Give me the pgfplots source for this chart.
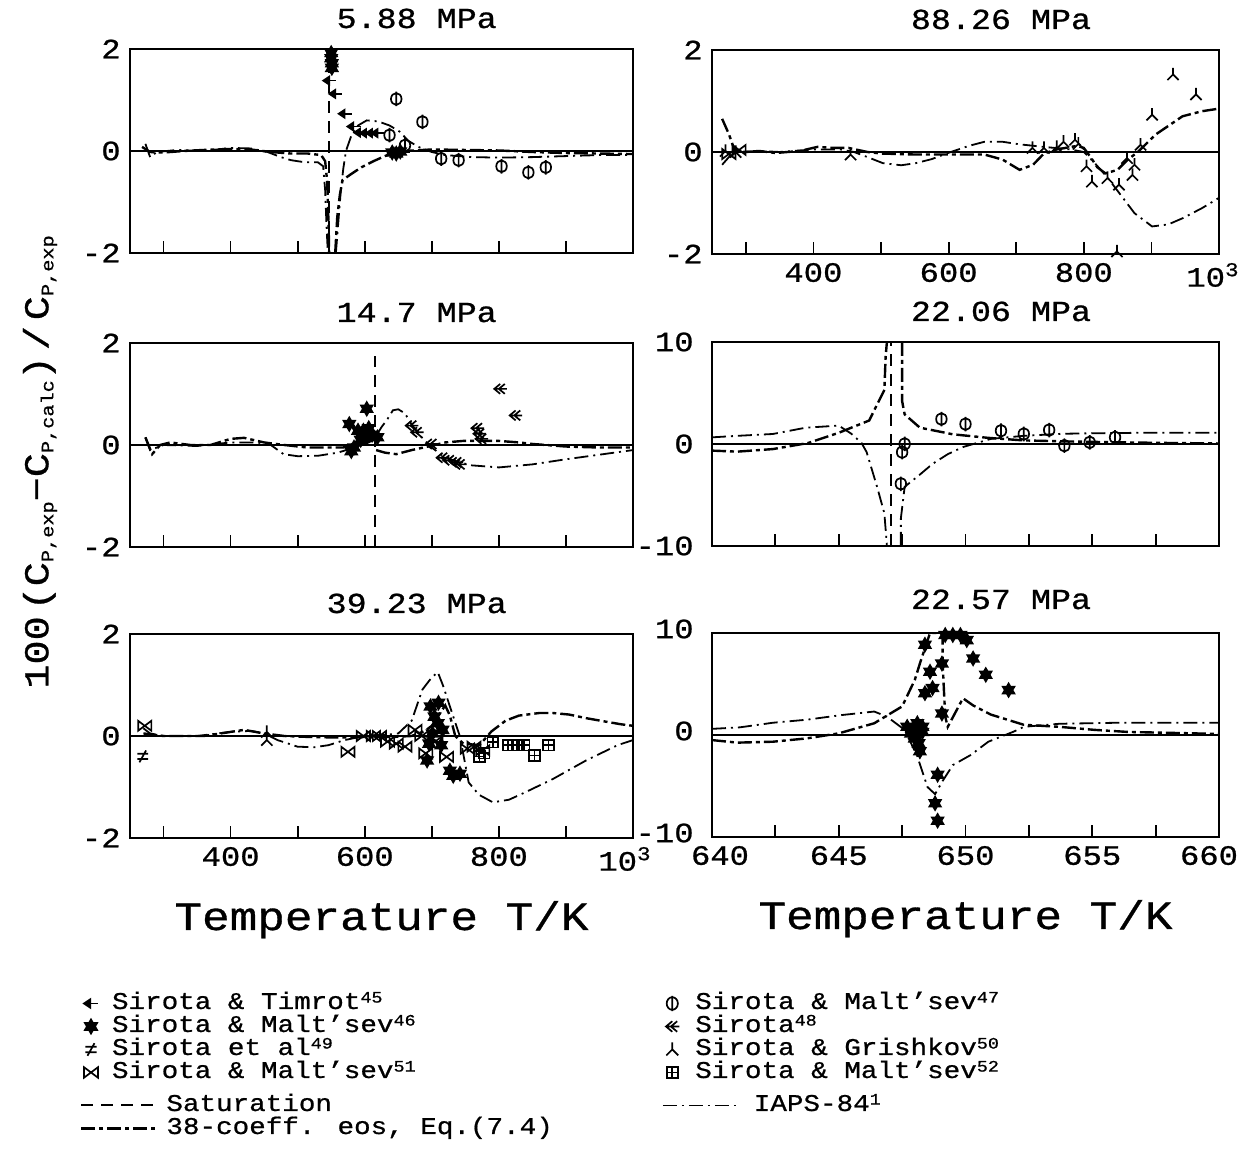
\documentclass[border=0pt]{standalone}
\usepackage{pgfplots}
\pgfplotsset{compat=1.18}
\usepackage{fontspec}
\setmainfont{Liberation Mono}[FakeStretch=1.15, FakeBold=0.8]
\newcommand\tkfont{\fontsize{14pt}{16pt}\selectfont}
\newcommand\ttlfont{\fontsize{14.5pt}{16pt}\selectfont}
\newcommand\lblfont{\fontsize{20pt}{22pt}\selectfont}
\newcommand\lgfont{\fontsize{12pt}{13pt}\selectfont}
\newcommand\ylfont{\fontsize{17.5pt}{19pt}\selectfont}
\newcommand\sub[1]{\raisebox{-2.5pt}{\fontsize{8.8pt}{9pt}\selectfont #1}}
\newcommand\sups[1]{\raisebox{3.2pt}{\fontsize{8pt}{8pt}\selectfont #1}}

% ---------- plot marks ----------
\pgfdeclareplotmark{larrow}{%
  \pgfpathmoveto{\pgfqpoint{-\pgfplotmarksize}{0pt}}%
  \pgfpathlineto{\pgfqpoint{-0.1\pgfplotmarksize}{0.6\pgfplotmarksize}}%
  \pgfpathlineto{\pgfqpoint{-0.1\pgfplotmarksize}{-0.6\pgfplotmarksize}}%
  \pgfpathclose
  \pgfusepathqfillstroke
  \pgfpathmoveto{\pgfqpoint{-0.2\pgfplotmarksize}{0pt}}%
  \pgfpathlineto{\pgfqpoint{\pgfplotmarksize}{0pt}}%
  \pgfusepathqstroke}
\pgfdeclareplotmark{hexstar}{%
  \pgfpathmoveto{\pgfqpoint{0pt}{\pgfplotmarksize}}%
  \pgfpathlineto{\pgfqpoint{0.866\pgfplotmarksize}{-0.5\pgfplotmarksize}}%
  \pgfpathlineto{\pgfqpoint{-0.866\pgfplotmarksize}{-0.5\pgfplotmarksize}}%
  \pgfpathclose
  \pgfpathmoveto{\pgfqpoint{0pt}{-\pgfplotmarksize}}%
  \pgfpathlineto{\pgfqpoint{-0.866\pgfplotmarksize}{0.5\pgfplotmarksize}}%
  \pgfpathlineto{\pgfqpoint{0.866\pgfplotmarksize}{0.5\pgfplotmarksize}}%
  \pgfpathclose
  \pgfusepathqfillstroke}
\pgfdeclareplotmark{neq}{%
  \pgfpathmoveto{\pgfqpoint{-0.8\pgfplotmarksize}{0.4\pgfplotmarksize}}%
  \pgfpathlineto{\pgfqpoint{0.8\pgfplotmarksize}{0.4\pgfplotmarksize}}%
  \pgfpathmoveto{\pgfqpoint{-0.8\pgfplotmarksize}{-0.4\pgfplotmarksize}}%
  \pgfpathlineto{\pgfqpoint{0.8\pgfplotmarksize}{-0.4\pgfplotmarksize}}%
  \pgfpathmoveto{\pgfqpoint{0.5\pgfplotmarksize}{0.9\pgfplotmarksize}}%
  \pgfpathlineto{\pgfqpoint{-0.5\pgfplotmarksize}{-0.9\pgfplotmarksize}}%
  \pgfusepathqstroke}
\pgfdeclareplotmark{bowtie}{%
  \pgfpathmoveto{\pgfqpoint{-\pgfplotmarksize}{0.75\pgfplotmarksize}}%
  \pgfpathlineto{\pgfqpoint{-\pgfplotmarksize}{-0.75\pgfplotmarksize}}%
  \pgfpathlineto{\pgfqpoint{\pgfplotmarksize}{0.75\pgfplotmarksize}}%
  \pgfpathlineto{\pgfqpoint{\pgfplotmarksize}{-0.75\pgfplotmarksize}}%
  \pgfpathclose
  \pgfusepathqstroke}
\pgfdeclareplotmark{phi}{%
  \pgfpathellipse{\pgfpointorigin}{\pgfqpoint{0.8\pgfplotmarksize}{0pt}}{\pgfqpoint{0pt}{0.9\pgfplotmarksize}}%
  \pgfpathmoveto{\pgfqpoint{0pt}{1.1\pgfplotmarksize}}%
  \pgfpathlineto{\pgfqpoint{0pt}{-1.1\pgfplotmarksize}}%
  \pgfusepathqstroke}
\pgfdeclareplotmark{dchev}{%
  \pgfpathmoveto{\pgfqpoint{0pt}{0.75\pgfplotmarksize}}%
  \pgfpathlineto{\pgfqpoint{-0.9\pgfplotmarksize}{0pt}}%
  \pgfpathlineto{\pgfqpoint{0pt}{-0.75\pgfplotmarksize}}%
  \pgfpathmoveto{\pgfqpoint{0.7\pgfplotmarksize}{0.75\pgfplotmarksize}}%
  \pgfpathlineto{\pgfqpoint{-0.2\pgfplotmarksize}{0pt}}%
  \pgfpathlineto{\pgfqpoint{0.7\pgfplotmarksize}{-0.75\pgfplotmarksize}}%
  \pgfpathmoveto{\pgfqpoint{-0.9\pgfplotmarksize}{0pt}}%
  \pgfpathlineto{\pgfqpoint{\pgfplotmarksize}{0pt}}%
  \pgfusepathqstroke}
\pgfdeclareplotmark{yinv}{%
  \pgfpathmoveto{\pgfqpoint{0pt}{\pgfplotmarksize}}%
  \pgfpathlineto{\pgfqpoint{0pt}{0pt}}%
  \pgfpathmoveto{\pgfqpoint{-0.85\pgfplotmarksize}{-0.85\pgfplotmarksize}}%
  \pgfpathlineto{\pgfqpoint{0pt}{0pt}}%
  \pgfpathlineto{\pgfqpoint{0.85\pgfplotmarksize}{-0.85\pgfplotmarksize}}%
  \pgfusepathqstroke}
\pgfdeclareplotmark{boxplus}{%
  \pgfpathrectangle{\pgfqpoint{-0.8\pgfplotmarksize}{-0.8\pgfplotmarksize}}{\pgfqpoint{1.6\pgfplotmarksize}{1.6\pgfplotmarksize}}%
  \pgfpathmoveto{\pgfqpoint{0pt}{-0.8\pgfplotmarksize}}%
  \pgfpathlineto{\pgfqpoint{0pt}{0.8\pgfplotmarksize}}%
  \pgfpathmoveto{\pgfqpoint{-0.8\pgfplotmarksize}{0pt}}%
  \pgfpathlineto{\pgfqpoint{0.8\pgfplotmarksize}{0pt}}%
  \pgfusepathqstroke}

\tikzset{
  iaps/.style={line width=0.9pt, dash pattern=on 7pt off 2.5pt on 1pt off 2.5pt},
  eos/.style={line width=1.2pt, dash pattern=on 7pt off 2pt on 2pt off 2pt},
  sat/.style={line width=1pt, dash pattern=on 6pt off 4pt},
  zl/.style={line width=0.9pt},
  dat/.style={mark size=3.3pt, line width=0.85pt},
}
\pgfplotsset{
  panel/.style={scale only axis, anchor=south west,
    axis line style={line width=1.2pt},
    tick align=inside, xtick pos=left, ytick pos=left,
    major tick length=6pt, tick style={line width=0.9pt, black},
    ytick style={draw=none},
    xticklabel style={font=\tkfont, yshift=-1pt},
    yticklabel style={font=\tkfont, inner sep=0pt, xshift=-4.5pt},
    title style={at={(axis description cs:0.57,1)}, anchor=base, yshift=4.5pt, font=\ttlfont, inner sep=0pt},
    xlabel style={at={(axis description cs:0.5,0)}, anchor=base, yshift=-46pt, font=\lblfont, inner sep=0pt},
  },
  wide/.style={panel, width=251.5pt, height=102pt, xmin=250, xmax=1000, ymin=-2, ymax=2,
    xtick={300,400,500,600,700,800,900,1000}, ytick={-2,0,2}, yticklabels={-2,0,2}},
  narrow/.style={panel, width=253.5pt, height=102pt, xmin=640, xmax=660, ymin=-10, ymax=10,
    xtick={640,642.5,...,660}, ytick={-10,0,10}, yticklabels={-10,0,10},
    yticklabel style={xshift=-4.5pt}},
  legbase/.style={hide axis, scale only axis, width=1pt, height=1pt,
    xmin=0, xmax=1, ymin=0, ymax=1, anchor=north west,
    legend style={at={(0,1)}, anchor=north west, draw=none, fill=none, font=\lgfont,
      legend cell align=left, inner sep=0pt, outer sep=0pt, row sep=0pt,
      nodes={inner sep=0pt, text height=8.5pt, text depth=3pt}}},
}

\begin{document}
\begin{tikzpicture}
\path[use as bounding box] (0,0) rectangle (622pt,586pt);

% ================= 5.88 MPa =================
\begin{axis}[wide, at={(65pt,459.5pt)}, xticklabels={}, title={5.88 MPa}]
\addplot[zl] coordinates {(250,0) (1000,0)};
\addplot[sat] coordinates {(547,-2) (547,2)};
\addplot[eos] coordinates {(268,0.08) (280,-0.02) (300,-0.03) (330,0.0) (360,0.02) (400,0.04) (430,0.03) (460,-0.02) (490,-0.05) (515,-0.05) (535,-0.08) (541,-0.2) (544,-0.6) (546,-1.4) (547,-2)};
\addplot[eos] coordinates {(556,-2) (559,-1.3) (563,-0.85) (567,-0.57) (580,-0.45) (595,-0.32) (613,-0.2) (630,-0.1) (645,-0.03) (660,0.0) (700,0.03) (750,0.02) (800,0.01) (850,-0.02) (900,-0.04) (950,-0.05) (1000,-0.06)};
\addplot[iaps] coordinates {(273,0.14) (280,-0.12) (290,-0.02) (320,0.02) (360,0.0) (400,0.06) (430,0.05) (455,-0.02) (475,-0.12) (490,-0.18) (510,-0.22) (530,-0.22) (538,-0.3) (541,-0.77) (543,-1.45) (545,-2)};
\addplot[iaps] coordinates {(557,-2) (560,-1.5) (564,-0.83) (568,-0.35) (572,0.0) (580,0.3) (590,0.5) (603,0.6) (620,0.58) (637,0.5) (652,0.38) (665,0.2) (680,0.08) (700,-0.02) (720,-0.08) (760,-0.12) (800,-0.13) (850,-0.12) (900,-0.1) (950,-0.08) (1000,-0.08)};
\addplot[only marks, dat, mark=larrow] coordinates {(548,1.38) (557,1.12) (571,0.73) (584,0.48) (594,0.36) (603,0.35) (612,0.35) (620,0.35) (644,-0.02) (650,-0.04) (657,-0.02)};
\addplot[only marks, dat, mark=hexstar] coordinates {(550,1.92) (550,1.82) (551,1.72) (551,1.63) (641,-0.03) (647,-0.05) (653,-0.01)};
\addplot[only marks, dat, mark=phi] coordinates {(647,1.02) (686,0.57) (637,0.31) (660,0.11) (714,-0.15) (740,-0.18) (804,-0.3) (844,-0.42) (870,-0.32)};
\end{axis}

% ================= 88.26 MPa =================
\begin{axis}[wide, width=253.5pt, at={(356pt,459pt)}, xticklabels={,400,,600,,800,,10\textsuperscript{3}\kern6pt}, title={88.26 MPa}]
\addplot[zl] coordinates {(250,0) (1000,0)};
\addplot[eos] coordinates {(265,0.65) (275,0.35) (283,0.05) (300,0.0) (320,0.02) (344,-0.02) (380,0.02) (406,0.1) (430,0.08) (452,0.08) (480,0.0) (500,-0.03) (551,-0.05) (599,-0.05) (653,-0.05) (680,-0.15) (705,-0.35) (725,-0.25) (741,-0.03) (760,0.05) (790,0.12) (800,0.08) (810,-0.1) (820,-0.3) (832,-0.42) (850,-0.35) (865,-0.15) (880,0.0) (906,0.34) (946,0.7) (975,0.8) (1000,0.85)};
\addplot[iaps] coordinates {(265,-0.25) (275,-0.1) (285,0.0) (320,0.02) (350,0.0) (400,0.05) (440,0.05) (460,0.0) (480,-0.1) (503,-0.22) (530,-0.26) (551,-0.22) (575,-0.14) (599,-0.02) (630,0.12) (653,0.2) (680,0.2) (705,0.15) (741,0.1) (780,0.05) (800,0.0) (815,-0.2) (835,-0.5) (855,-0.85) (875,-1.2) (901,-1.46) (925,-1.42) (946,-1.3) (975,-1.1) (1000,-0.9)};
\addplot[only marks, dat, mark=yinv] coordinates {(932,1.52) (966,1.13) (901,0.73) (787,0.24) (792,0.16) (770,0.2) (724,0.08) (741,0.08) (760,0.1) (804,-0.28) (812,-0.58) (835,-0.51) (852,-0.64) (872,-0.45) (875,-0.25) (864,-0.12) (884,0.14) (849,-1.95) (270,0.02) (285,0.0) (455,-0.05)};
\addplot[only marks, dat, mark=bowtie] coordinates {(275,-0.04) (290,0.04) (842,-2.05)};
\end{axis}

% ================= 14.7 MPa =================
\begin{axis}[wide, at={(65pt,312.5pt)}, xticklabels={}, title={14.7 MPa}]
\addplot[zl] coordinates {(250,0) (1000,0)};
\addplot[sat] coordinates {(616,-2) (616,1.75)};
\addplot[eos] coordinates {(273,0.15) (283,-0.18) (295,0.0) (310,0.05) (340,0.0) (370,0.0) (400,0.12) (420,0.14) (450,0.05) (480,0.0) (515,-0.05) (545,-0.05) (567,-0.05) (590,0.0) (605,0.05) (612,0.1)};
\addplot[eos] coordinates {(617,-0.1) (630,-0.15) (647,-0.18) (670,-0.1) (698,-0.02) (720,0.05) (747,0.08) (775,0.08) (800,0.08) (830,0.05) (850,0.02) (900,-0.03) (950,-0.05) (1000,-0.05)};
\addplot[iaps] coordinates {(273,0.15) (280,-0.1) (300,0.0) (350,-0.02) (400,0.05) (440,0.05) (460,0.0) (479,-0.18) (500,-0.22) (531,-0.21) (560,-0.15) (577,-0.08) (595,0.0) (608,0.1) (614,0.2)};
\addplot[iaps] coordinates {(618,0.2) (625,0.35) (634,0.51) (642,0.68) (650,0.7) (660,0.62) (670,0.4) (685,0.15) (698,-0.03) (715,-0.2) (735,-0.32) (760,-0.4) (800,-0.44) (850,-0.38) (900,-0.28) (950,-0.19) (1000,-0.1)};
\addplot[only marks, dat, mark=hexstar] coordinates {(603,0.71) (577,0.41) (590,0.28) (598,0.28) (606,0.33) (611,0.2) (619,0.15) (580,-0.12) (584,-0.05) (594,0.1) (600,0.15)};
\addplot[only marks, dat, mark=dchev] coordinates {(802,1.1) (825,0.58) (670,0.38) (678,0.25) (716,-0.25) (726,-0.3) (737,-0.34) (742,-0.38) (768,0.33) (771,0.22) (774,0.12) (700,0.02)};
\end{axis}

% ================= 22.06 MPa =================
\begin{axis}[narrow, at={(356pt,313pt)}, xticklabels={}, title={22.06 MPa}]
\addplot[zl] coordinates {(640,0) (660,0)};
\addplot[sat] coordinates {(647.07,-10) (647.07,10)};
\addplot[iaps] coordinates {(640,0.65) (641,0.8) (642.4,0.98) (643.7,1.6) (645,1.8) (645.5,1.0) (645.9,0.1) (646.1,-0.8) (646.5,-4.1) (646.8,-6.8) (646.9,-10)};
\addplot[iaps] coordinates {(647.45,-10) (647.45,-7.3) (647.6,-4.2) (648.2,-3.0) (648.7,-1.95) (649.3,-1.0) (649.9,-0.3) (651,0.5) (652.3,0.8) (653.8,1.0) (655,1.05) (657,1.1) (660,1.1)};
\addplot[eos] coordinates {(640,-0.65) (641,-0.75) (642.4,-0.5) (643.8,0.1) (645,1.1) (646.2,2.3) (646.8,5.3) (646.85,8.6) (646.9,10)};
\addplot[eos] coordinates {(647.5,10) (647.5,7.6) (647.5,4.2) (647.6,2.9) (648.2,1.6) (649.5,0.95) (650.9,0.6) (652.3,0.35) (654,0.25) (656.4,0.15) (658,0.1) (660,0.05)};
\addplot[only marks, dat, mark=phi] coordinates {(649.05,2.44) (650.0,1.95) (651.4,1.3) (652.3,0.98) (653.3,1.37) (653.9,-0.16) (654.9,0.16) (655.9,0.65) (647.6,0.0) (647.5,-0.8) (647.45,-3.9)};
\end{axis}

% ================= 39.23 MPa =================
\begin{axis}[wide, at={(65pt,167pt)}, xticklabels={,400,,600,,800,,10\textsuperscript{3}\kern8pt}, title={39.23 MPa}, xlabel={Temperature T/K}]
\addplot[zl] coordinates {(250,0) (1000,0)};
\addplot[iaps] coordinates {(270,0.15) (280,0.05) (300,0.0) (350,0.0) (400,0.08) (430,0.1) (450,0.05) (470,-0.08) (500,-0.21) (525,-0.22) (546,-0.18) (570,-0.08) (600,0.0) (630,0.02) (650,0.05) (670,0.3) (686,0.91) (700,1.15) (709,1.25) (717,0.98) (732,0.38) (742,-0.01) (755,-0.91) (770,-1.15) (791,-1.3) (815,-1.25) (840,-1.1) (881,-0.84) (930,-0.48) (977,-0.18) (1000,-0.08)};
\addplot[eos] coordinates {(270,0.05) (300,0.0) (330,0.0) (360,0.0) (400,0.08) (420,0.12) (450,0.05) (480,0.0) (520,-0.02) (560,-0.03) (600,-0.02) (640,-0.02) (670,0.0) (690,0.1) (700,0.2) (710,0.4) (720,0.6) (727,0.4) (735,0.0) (747,-0.15) (771,-0.18) (789,0.09) (810,0.3) (830,0.4) (860,0.45) (881,0.45) (905,0.42) (930,0.35) (960,0.28) (982,0.23) (1000,0.2)};
\addplot[only marks, dat, mark=bowtie] coordinates {(272,0.2) (575,-0.31) (598,0.0) (613,0.0) (622,0.0) (634,-0.11) (647,-0.15) (660,-0.21) (675,0.12) (685,0.0) (691,-0.34) (706,-0.1) (722,-0.41) (753,-0.25) (763,-0.21) (776,-0.28)};
\addplot[only marks, dat, mark=hexstar] coordinates {(698,0.58) (704,0.38) (709,0.25) (696,-0.15) (693,-0.48) (727,-0.68) (732,-0.78) (742,-0.74) (716,0.12) (714,-0.18) (701,0.05) (710,0.65)};
\addplot[only marks, dat, mark=neq] coordinates {(269,-0.4)};
\addplot[only marks, dat, mark=boxplus] coordinates {(771,-0.4) (778,-0.34) (791,-0.12) (814,-0.18) (827,-0.18) (838,-0.18) (853,-0.38) (874,-0.18)};
\addplot[only marks, dat, mark=yinv] coordinates {(454,0.08) (454,-0.08)};
\end{axis}

% ================= 22.57 MPa =================
\begin{axis}[narrow, at={(356pt,167.5pt)}, xticklabels={\kern8pt 640,,645,,650,,655,,660\kern10pt}, title={22.57 MPa}, title style={yshift=1.5pt}, xlabel={Temperature T/K},
  yticklabel style={yshift=2pt}]
\addplot[zl] coordinates {(640,0) (660,0)};
\addplot[iaps] coordinates {(640,0.6) (641.1,0.75) (642.4,1.2) (643.75,1.5) (645.1,1.95) (646.4,2.3) (646.9,1.8) (647.6,0.5) (648.1,-2.1) (648.5,-5.1) (648.8,-5.8) (649.1,-4.5) (649.5,-2.95) (650.2,-1.97) (650.9,-0.66) (651.9,0.33) (652.3,0.8) (653.7,1.1) (656,1.2) (660,1.2)};
\addplot[eos] coordinates {(640,-0.5) (641,-0.75) (642.4,-0.66) (643.75,-0.33) (645,0.16) (646.4,1.15) (647.5,2.8) (648,5.4) (648.2,7.0) (648.6,10) (649.1,10) (649.1,6.9) (649.2,1.8) (649.3,0.8) (649.9,3.6) (650.3,2.9) (651,2.0) (652.3,1.0) (653.7,0.8) (655.1,0.5) (656.4,0.3) (659,0.16) (660,0.1)};
\addplot[only marks, dat, mark=hexstar] coordinates {(648.4,8.85) (648.6,6.2) (648.4,4.1) (648.7,4.6) (649.07,7.0) (649.07,2.1) (649.2,9.8) (649.5,9.8) (649.8,9.8) (650.05,9.3) (650.3,7.5) (650.8,5.9) (651.7,4.4) (648.9,-3.9) (648.8,-6.7) (648.9,-8.4) (647.7,0.8) (647.85,0.16) (648.0,-0.33) (648.15,-0.82) (648.2,-1.6) (648.1,1.15) (648.3,0.8) (647.9,0.5) (648.0,0.0) (648.3,0.3)};
\end{axis}

% ================= legends =================
\begin{axis}[legbase, at={(42pt,90pt)},
  legend style={/tikz/every odd column/.append style={column sep=7pt}},
  legend image code/.code={\draw[#1, mark size=3.5pt] plot coordinates {(0pt,0pt)};}]
\addlegendimage{only marks, dat, mark=larrow}\addlegendentry{Sirota \& Timrot\sups{45}}
\addlegendimage{only marks, dat, mark=hexstar}\addlegendentry{Sirota \& Malt'sev\sups{46}}
\addlegendimage{only marks, dat, mark=neq}\addlegendentry{Sirota et al\sups{49}}
\addlegendimage{only marks, dat, mark=bowtie}\addlegendentry{Sirota \& Malt'sev\sups{51}}
\end{axis}
\begin{axis}[legbase, at={(40pt,39pt)},
  legend style={/tikz/every odd column/.append style={column sep=5pt}},
  legend image code/.code={\draw[#1] (0pt,0pt) -- (37pt,0pt);}]
\addlegendimage{sat}\addlegendentry{Saturation}
\addlegendimage{eos}\addlegendentry{38-coeff. eos, Eq.(7.4)}
\end{axis}
\begin{axis}[legbase, at={(333pt,90pt)},
  legend style={/tikz/every odd column/.append style={column sep=8pt}},
  legend image code/.code={\draw[#1, mark size=3.5pt] plot coordinates {(0pt,0pt)};}]
\addlegendimage{only marks, dat, mark=phi}\addlegendentry{Sirota \& Malt'sev\sups{47}}
\addlegendimage{only marks, dat, mark=dchev}\addlegendentry{Sirota\sups{48}}
\addlegendimage{only marks, dat, mark=yinv}\addlegendentry{Sirota \& Grishkov\sups{50}}
\addlegendimage{only marks, dat, mark=boxplus}\addlegendentry{Sirota \& Malt'sev\sups{52}}
\end{axis}
\begin{axis}[legbase, at={(331pt,39pt)},
  legend style={/tikz/every odd column/.append style={column sep=8pt}},
  legend image code/.code={\draw[#1] (0pt,0pt) -- (37pt,0pt);}]
\addlegendimage{iaps}\addlegendentry{IAPS-84\sups{1}}
\end{axis}

% y-axis label
\node[rotate=90, font=\ylfont, inner sep=0pt] at (20pt,355pt)
  {100\,(C\sub{P,exp}−C\sub{P,calc})\,/\,C\sub{P,exp}};
\end{tikzpicture}
\end{document}
